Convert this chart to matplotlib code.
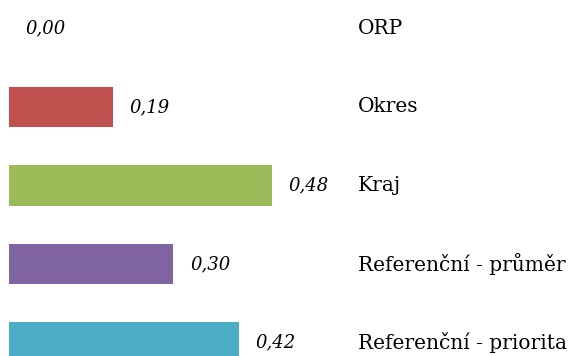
import matplotlib.pyplot as plt

categories = ['ORP', 'Okres', 'Kraj', 'Referenční - průměr', 'Referenční - priorita']
values = [0.00, 0.19, 0.48, 0.30, 0.42]
colors = ['#4F81BD', '#C0504D', '#9BBB59', '#8064A2', '#4BACC6']

plt.rcParams['font.family'] = ['DejaVu Serif']

fig = plt.figure(figsize=(5.68, 3.56), dpi=100)
ax = fig.add_axes([0, 0, 1, 1])

pos = list(range(len(categories)))
ax.barh(pos, values, height=0.51, color=colors)

for y, v, name in zip(pos, values, categories):
    ax.annotate(f'{v:.2f}'.replace('.', ','), (v, y), xytext=(12, 0), textcoords='offset points',
                va='center', ha='left', fontsize=13, style='italic')
    ax.text(0.630, y, name, transform=ax.get_yaxis_transform(), va='center', ha='left', fontsize=14.5)

ax.set_xlim(-0.0164, 1.0201)
ax.set_ylim(4.172, -0.363)
ax.axis('off')

fig.savefig('out.png', dpi=100)
